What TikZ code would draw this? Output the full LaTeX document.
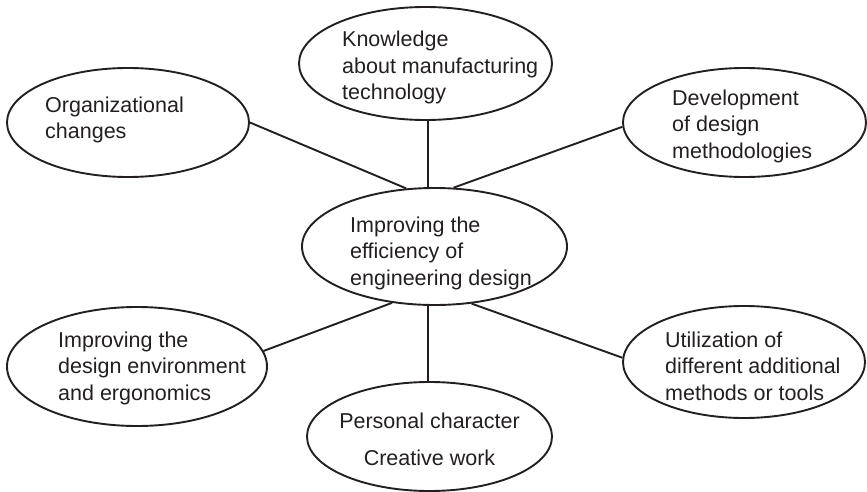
\documentclass[tikz,border=0pt]{standalone}
\usepackage{fontspec}
\setmainfont{Liberation Sans}
\usetikzlibrary{shapes.geometric}
\definecolor{ink}{HTML}{231F20}
\tikzset{
  bubble/.style={ellipse, draw=ink, line width=1.9pt, inner sep=0pt},
  label text/.style={inner sep=0pt, align=left, text=ink, font=\fontsize{21.5}{26.5}\selectfont, anchor=base west},
  link/.style={draw=ink, line width=1.9pt}
}
\begin{document}
\begin{tikzpicture}[x=1pt,y=-1pt]
\useasboundingbox (0,0) rectangle (867,492);
% ellipses
\node[bubble, minimum width=242pt, minimum height=109pt] (org) at (128,122.5) {};
\node[bubble, minimum width=253pt, minimum height=113pt] (know) at (425.5,63.5) {};
\node[bubble, minimum width=243pt, minimum height=109pt] (dev) at (744.5,122.5) {};
\node[bubble, minimum width=265pt, minimum height=117pt] (ctr) at (434.5,246.5) {};
\node[bubble, minimum width=260pt, minimum height=119pt] (env) at (137,366.5) {};
\node[bubble, minimum width=245pt, minimum height=109pt] (pers) at (429.5,436.5) {};
\node[bubble, minimum width=242pt, minimum height=112pt] (util) at (744,362) {};
% texts
\node[label text] (orgt) at (45,139) {Organizational\\changes};
\node[label text] (knowt) at (342,100) {Knowledge\\about manufacturing\\technology};
\node[label text] (devt) at (672,158) {Development\\of design\\methodologies};
\node[label text] (ctrt) at (350,285) {Improving the\\efficiency of\\engineering design};
\node[label text] (envt) at (58,400) {Improving the\\design environment\\and ergonomics};
\node[label text, align=center, anchor=base, font=\fontsize{21.5}{37}\selectfont] (perst) at (429.5,465) {Personal character\\Creative work};
\node[label text] (utilt) at (665,400) {Utilization of\\different additional\\methods or tools};
% connectors
\draw[link] (org.east) -- (ctr.116);
\draw[link] (ctr.264.6 |- know.south) -- (ctr.264.6 |- ctr.north);
\draw[link] (dev.182) -- (ctr.72);
\draw[link] (ctr.233) -- (env.7.5);
\draw[link] (ctr.303) -- (util.178);
\draw[link] (ctr.264.6) -- (ctr.264.6 |- pers.north);
\end{tikzpicture}
\end{document}
